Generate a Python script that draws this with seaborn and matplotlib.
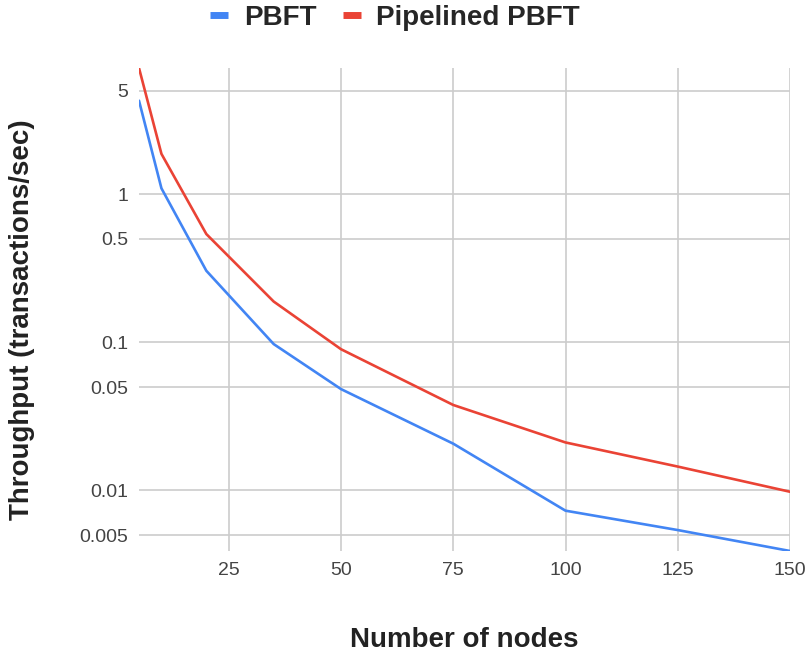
import numpy as np
import pandas as pd
import matplotlib
matplotlib.use("Agg")
import matplotlib.pyplot as plt
import seaborn as sns

# values
nodes = [5, 10, 20, 35, 50, 75, 100, 125, 150]
pbft = [4.3, 1.1, 0.305, 0.0975, 0.0484, 0.0207, 0.0073, 0.0054, 0.0039]
pipelined = [7.15, 1.88, 0.54, 0.189, 0.090, 0.0378, 0.0211, 0.0145, 0.0098]

series_names = ["PBFT", "Pipelined PBFT"]
colors = ["#4285F4", "#EA4335"]

y_ticks = [0.005, 0.01, 0.05, 0.1, 0.5, 1, 5]
y_labels = ["0.005", "0.01", "0.05", "0.1", "0.5", "1", "5"]
x_ticks = [25, 50, 75, 100, 125, 150]

df = pd.DataFrame({
    "nodes": nodes * 2,
    "throughput": pbft + pipelined,
    "series": [series_names[0]] * len(nodes) + [series_names[1]] * len(nodes),
})

sns.set_style("white")
plt.rcParams["font.family"] = ["Liberation Sans", "DejaVu Sans"]

fig = plt.figure(figsize=(8.09, 6.62), dpi=100)
ax = fig.add_axes([0.1718, 0.1677, 0.9765 - 0.1718, 0.8973 - 0.1677])

sns.lineplot(data=df, x="nodes", y="throughput", hue="series",
             palette=colors, linewidth=1.9, ax=ax, legend=True)

ax.set_yscale("log")
ax.set_xlim(min(nodes), max(nodes))
ax.set_ylim(min(pbft), max(pipelined))
ax.yaxis.set_major_locator(matplotlib.ticker.FixedLocator(y_ticks))
ax.yaxis.set_major_formatter(matplotlib.ticker.FixedFormatter(y_labels))
ax.yaxis.set_minor_locator(matplotlib.ticker.NullLocator())
ax.xaxis.set_major_locator(matplotlib.ticker.FixedLocator(x_ticks))

ax.grid(True, color="#cccccc", linewidth=1.2)
ax.set_axisbelow(True)
for s in ax.spines.values():
    s.set_visible(False)
ax.tick_params(length=0, labelsize=14, labelcolor="#444444", pad=8)

ax.set_xlabel("")
ax.set_ylabel("")
fig.text(464 / 809, 1 - 640 / 662, "Number of nodes", ha="center", va="center",
         fontsize=20, fontweight="bold", color="#222222")
fig.text(22 / 809, 1 - 320 / 662, "Throughput (transactions/sec)", ha="center",
         va="center", rotation=90, fontsize=20, fontweight="bold", color="#222222")

handles, labels = ax.get_legend_handles_labels()
ax.get_legend().remove()
fig.legend(handles, labels, loc="center", bbox_to_anchor=(395 / 809, 1 - 18 / 662),
           ncol=2, frameon=False, handlelength=0.65,
           handletextpad=0.55, columnspacing=0.95,
           prop={"weight": "bold", "size": 20})
for line in fig.legends[0].get_lines():
    line.set_linewidth(5)
    line.set_solid_capstyle("butt")

fig.savefig("out.png", dpi=100)
